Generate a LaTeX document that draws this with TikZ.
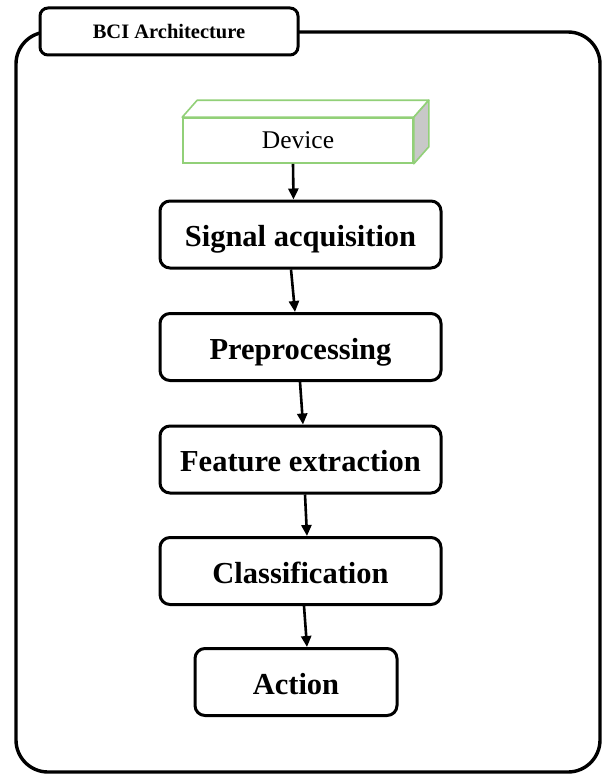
\documentclass[tikz,border=0pt]{standalone}
\usepackage{fontspec}
\setmainfont{Liberation Serif}
\usetikzlibrary{arrows.meta,calc}
\definecolor{devgreen}{RGB}{146,208,120}
\definecolor{sidegray}{RGB}{200,200,200}
\begin{document}
\begin{tikzpicture}[x=1pt,y=-1pt,
  stage/.style={draw=black,line width=3pt,rounded corners=10pt,fill=white,
    minimum width=281pt,minimum height=67pt,inner sep=0pt,
    text height=28pt,text depth=4pt,
    font=\fontsize{30.5}{33}\selectfont\bfseries},
  flow/.style={line width=2.6pt,-{Triangle[length=11pt,width=10pt]}}]
\useasboundingbox (0,0) rectangle (603,776);
% outer frame
\draw[line width=3.4pt,rounded corners=32pt] (16,32) rectangle (600,772);
% tab
\node[draw=black,line width=3pt,rounded corners=8pt,fill=white,
  minimum width=258pt,minimum height=47pt,inner sep=0pt,
  font=\fontsize{20.5}{22}\selectfont\bfseries] (tab) at (169,31.5) {BCI Architecture};
% device
\node[draw=devgreen,line width=1.6pt,fill=white,minimum width=230pt,minimum height=45pt,
  inner sep=0pt,font=\fontsize{25.5}{27}\selectfont] (dev) at (298,140.5) {Device};
\draw[draw=devgreen,line width=1.6pt,fill=white,line join=round]
  (dev.north west) -- ++(15,-17) -- ($(dev.north east)+(15,-17)$) -- (dev.north east) -- cycle;
\draw[draw=devgreen,line width=1.6pt,fill=sidegray,line join=round]
  (dev.north east) -- ++(15,-17) -- ($(dev.south east)+(15,-17)$) -- (dev.south east) -- cycle;
% stages
\node[stage] (sig) at (300.5,234.5) {Signal acquisition};
\node[stage] (pre) at (300.5,347) {Preprocessing};
\node[stage] (fea) at (300.5,459.5) {Feature extraction};
\node[stage] (cls) at (300.5,571) {Classification};
\node[stage,minimum width=202pt] (act) at (296,682) {Action};
% arrows
\draw[flow] ($(dev.south)+(-5,0)$) -- ($(sig.north)+(-7,0)$);
\draw[flow] ($(sig.south)+(-9.5,0)$) -- ($(pre.north)+(-5.5,0)$);
\draw[flow] ($(pre.south)+(-0.5,0)$) -- ($(fea.north)+(2.5,0)$);
\draw[flow] ($(fea.south)+(4.5,0)$) -- ($(cls.north)+(6.5,0)$);
\draw[flow] ($(cls.south)+(3.5,0)$) -- ($(act.north)+(11,0)$);
\end{tikzpicture}
\end{document}
